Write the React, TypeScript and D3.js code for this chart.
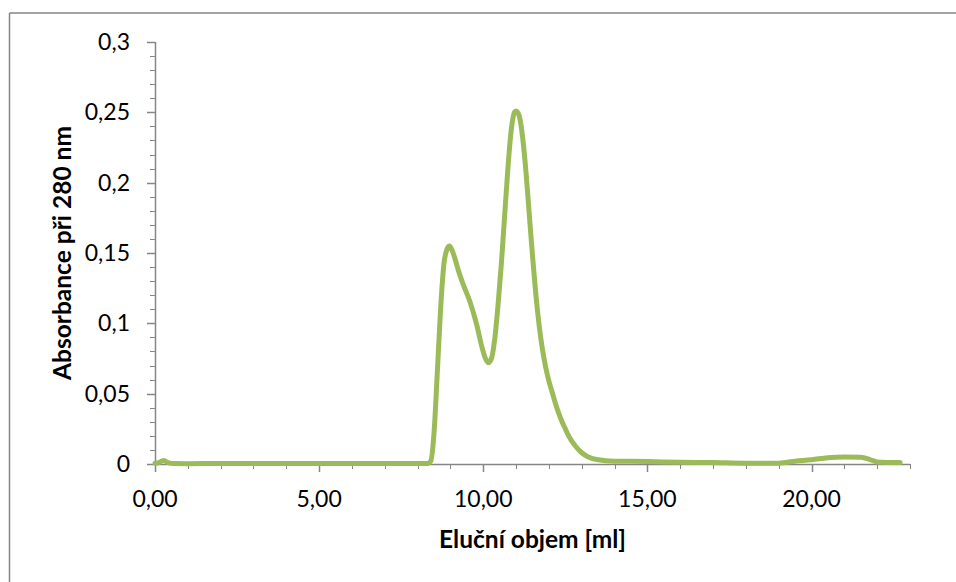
import React from "react";
import * as d3 from "d3";

const volume = [0, 0.12, 0.25, 0.4, 0.6, 1, 2, 4, 6, 8, 8.3, 8.4, 8.5, 8.6, 8.7, 8.8, 8.9, 8.97, 9.05, 9.15, 9.25, 9.4, 9.6, 9.8, 9.95, 10.05, 10.15, 10.25, 10.35, 10.45, 10.55, 10.65, 10.75, 10.85, 10.95, 11.0, 11.1, 11.2, 11.3, 11.4, 11.5, 11.6, 11.7, 11.8, 11.9, 12.0, 12.1, 12.2, 12.3, 12.4, 12.5, 12.6, 12.8, 13.0, 13.2, 13.5, 14, 15, 16, 17, 18, 19, 19.5, 20, 20.5, 21, 21.5, 21.8, 22, 22.7];
const absorbance = [0.0005, 0.001, 0.0025, 0.001, 0.0003, 0.0002, 0.0004, 0.0003, 0.0003, 0.0003, 0.0003, 0.002, 0.022, 0.065, 0.11, 0.142, 0.153, 0.155, 0.152, 0.145, 0.137, 0.127, 0.115, 0.099, 0.084, 0.076, 0.072, 0.075, 0.089, 0.113, 0.142, 0.176, 0.21, 0.237, 0.25, 0.251, 0.247, 0.232, 0.208, 0.178, 0.148, 0.121, 0.099, 0.082, 0.069, 0.059, 0.051, 0.043, 0.036, 0.03, 0.025, 0.02, 0.013, 0.008, 0.005, 0.003, 0.002, 0.0018, 0.0012, 0.001, 0.0006, 0.0006, 0.002, 0.003, 0.0045, 0.005, 0.0048, 0.003, 0.0015, 0.001];

const yMajor = [0, 0.05, 0.1, 0.15, 0.2, 0.25, 0.3];
const yMajorLabels = ["0", "0,05", "0,1", "0,15", "0,2", "0,25", "0,3"];
const yMinor = d3.range(0, 31).map((i) => i / 100);
const xMajor = [0, 5, 10, 15, 20];
const xMajorLabels = ["0,00", "5,00", "10,00", "15,00", "20,00"];
const xMinor = d3.range(0, 24);

const xTitle = "Eluční objem [ml]";
const yTitle = "Absorbance při 280 nm";

export default function App() {
  const W = 956, H = 582;
  const x = d3.scaleLinear().domain([0, 23]).range([155, 910]);
  const y = d3.scaleLinear().domain([0, 0.3]).range([464, 42]);
  const pts = volume.map((v, i) => [v, absorbance[i]] as [number, number]);
  const line = d3.line<[number, number]>().x((d) => x(d[0])).y((d) => y(d[1])).curve(d3.curveMonotoneX);
  const axisColor = "#868686";
  const font = "Lato, 'Open Sans', sans-serif";
  return (
    <svg width={W} height={H} style={{ position: "absolute", left: 0, top: 0 }} fontFamily={font}>
      <rect x={0} y={0} width={W} height={H} fill="#fff" />
      <line x1={9.5} y1={13} x2={9.5} y2={H} stroke={axisColor} strokeWidth={1.5} />
      <line x1={9.5} y1={13} x2={W} y2={13} stroke={axisColor} strokeWidth={1.5} />
      {yMinor.map((v) => (
        <line key={"ym" + v} x1={x(0) - 5} x2={x(0)} y1={Math.round(y(v)) + 0.5} y2={Math.round(y(v)) + 0.5} stroke={axisColor} strokeWidth={1} />
      ))}
      {yMajor.map((v) => (
        <line key={"yM" + v} x1={x(0) - 8} x2={x(0)} y1={Math.round(y(v)) + 0.5} y2={Math.round(y(v)) + 0.5} stroke={axisColor} strokeWidth={1.5} />
      ))}
      {xMinor.map((v) => (
        <line key={"xm" + v} x1={Math.round(x(v)) + 0.5} x2={Math.round(x(v)) + 0.5} y1={y(0)} y2={y(0) + 5} stroke={axisColor} strokeWidth={1} />
      ))}
      {xMajor.map((v) => (
        <line key={"xM" + v} x1={Math.round(x(v)) + 0.5} x2={Math.round(x(v)) + 0.5} y1={y(0)} y2={y(0) + 8} stroke={axisColor} strokeWidth={1.5} />
      ))}
      <line x1={x(0) + 0.5} x2={x(0) + 0.5} y1={y(0.3)} y2={y(0)} stroke={axisColor} strokeWidth={1.5} />
      <line x1={x(0)} x2={x(23)} y1={y(0) + 0.5} y2={y(0) + 0.5} stroke={axisColor} strokeWidth={1.5} />
      {yMajor.map((v, i) => (
        <text key={"yl" + v} x={130} y={y(v)} dy="0.35em" textAnchor="end" fontSize={23} fill="#000">
          {yMajorLabels[i]}
        </text>
      ))}
      {xMajor.map((v, i) => (
        <text key={"xl" + v} x={x(v)} y={507} textAnchor="middle" fontSize={23} fill="#000">
          {xMajorLabels[i]}
        </text>
      ))}
      <text x={532.5} y={548} textAnchor="middle" fontSize={24.5} fontWeight="bold" fill="#000">
        {xTitle}
      </text>
      <text transform={`translate(71,253) rotate(-90)`} textAnchor="middle" fontSize={24.5} fontWeight="bold" fill="#000">
        {yTitle}
      </text>
      <path d={line(pts) || ""} fill="none" stroke="#9BBB59" strokeWidth={5} strokeLinejoin="round" strokeLinecap="round" />
    </svg>
  );
}
